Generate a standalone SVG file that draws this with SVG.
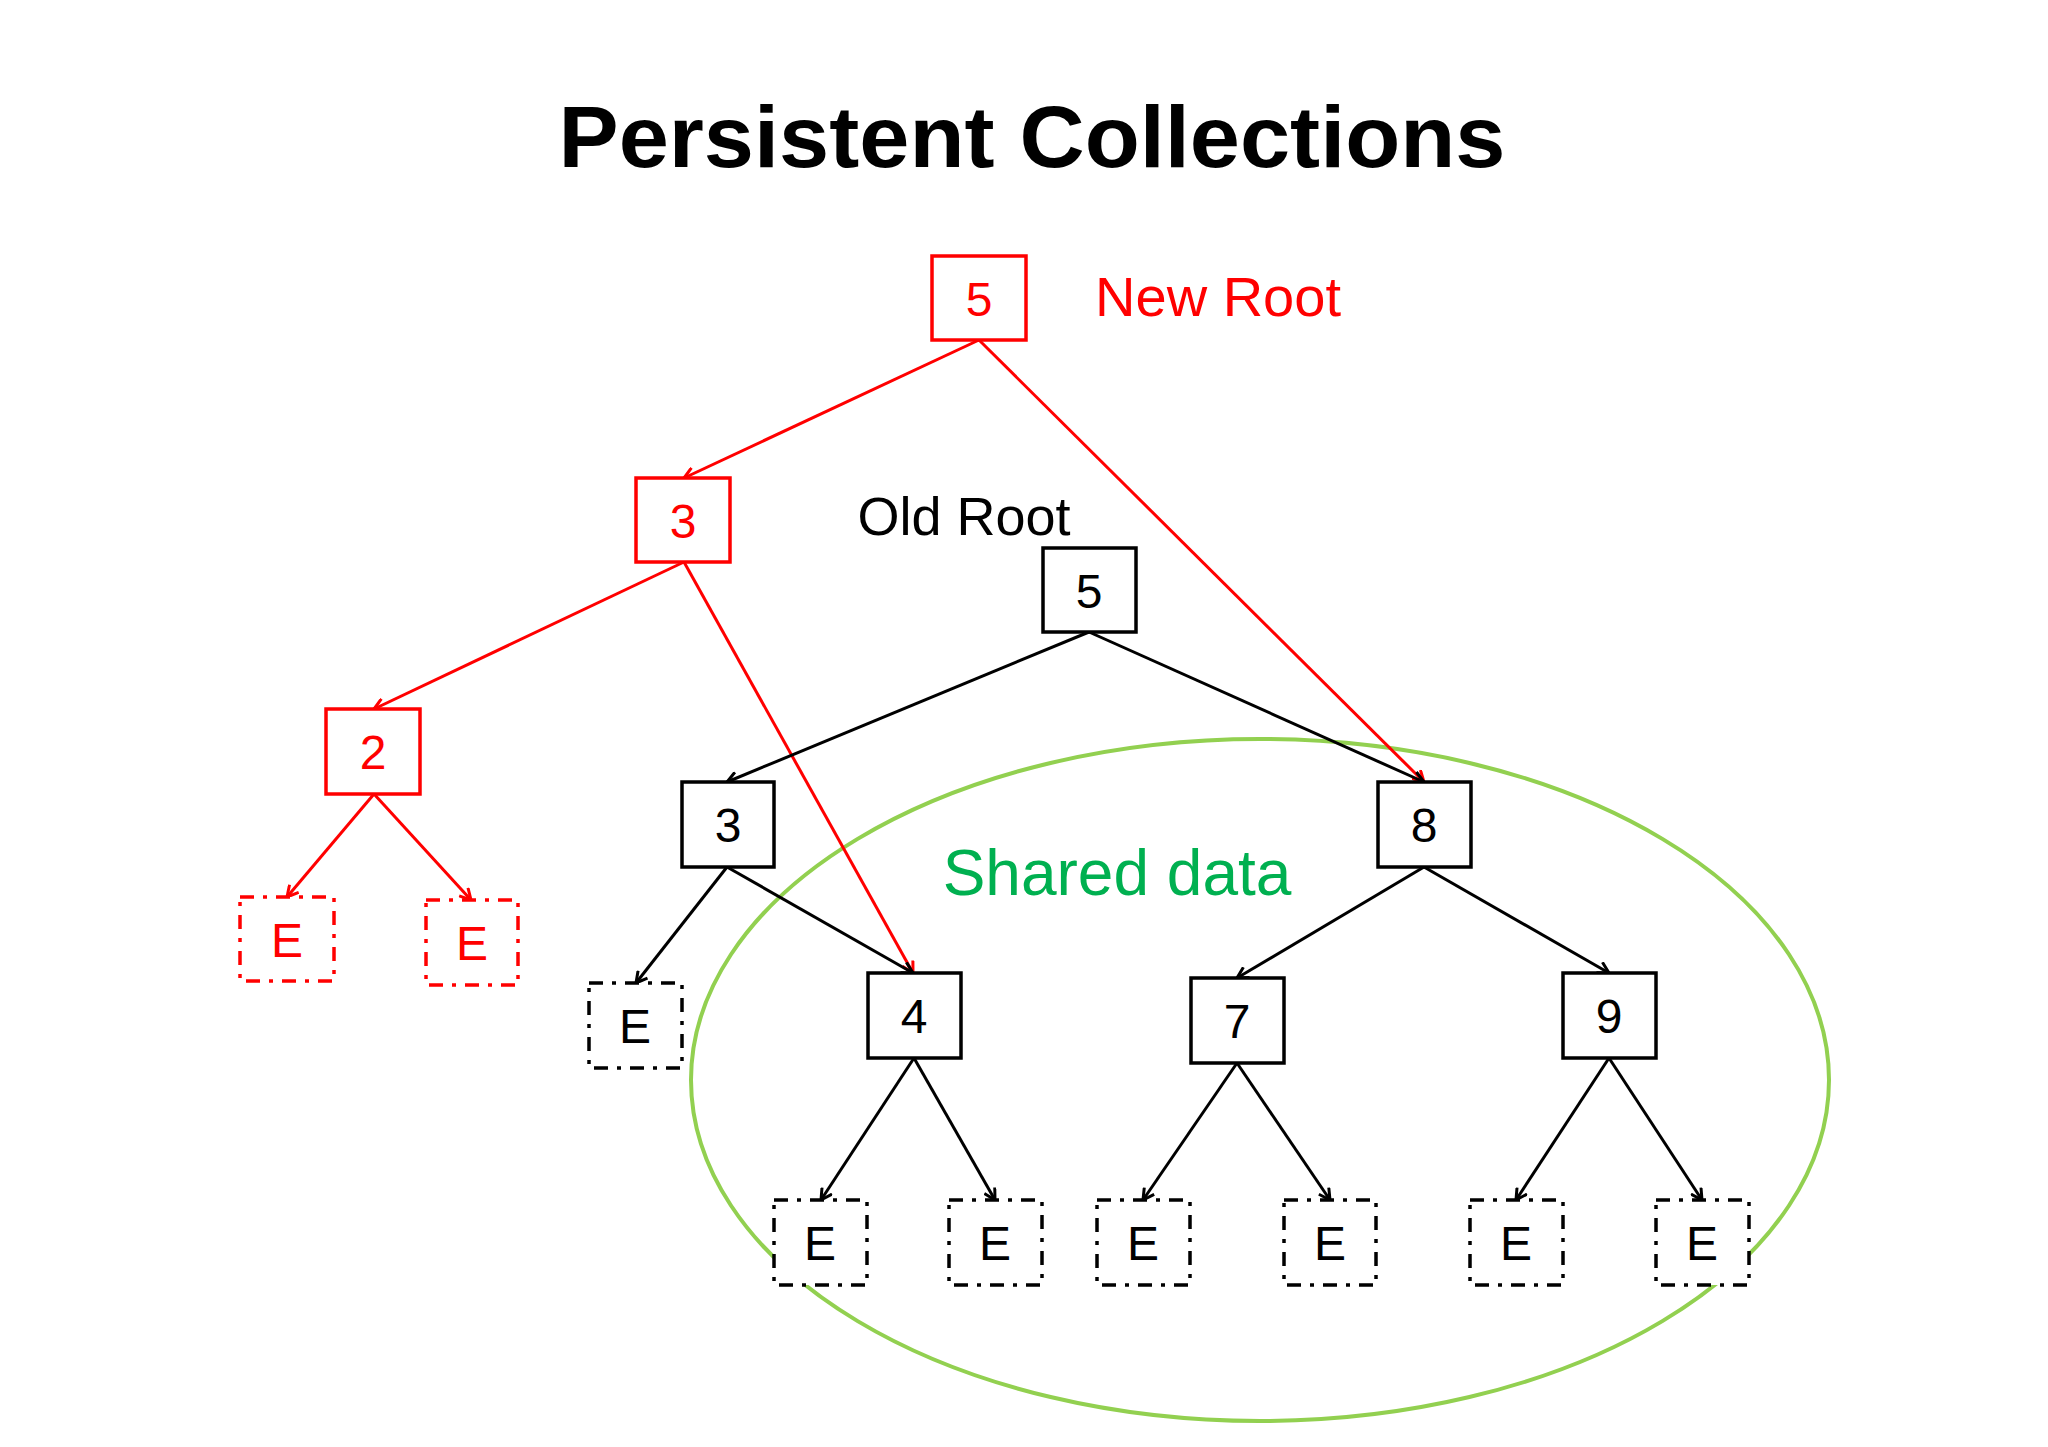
<svg xmlns="http://www.w3.org/2000/svg" width="2048" height="1447" viewBox="0 0 2048 1447">
<defs>
<marker id="ab" markerWidth="14" markerHeight="14" refX="12" refY="7" orient="auto" markerUnits="userSpaceOnUse"><path d="M1,1 L12,7 L1,13" fill="none" stroke="#000" stroke-width="3"/></marker>
<marker id="ar" markerWidth="14" markerHeight="14" refX="12" refY="7" orient="auto" markerUnits="userSpaceOnUse"><path d="M1,1 L12,7 L1,13" fill="none" stroke="#f00" stroke-width="3"/></marker>
</defs>
<style>
text{font-family:"Liberation Sans","Open Sans",sans-serif;text-anchor:middle}
.n rect{fill:#fff;stroke-width:3.5}
.k rect{stroke:#000}.r rect{stroke:#f00}
.d rect{stroke-dasharray:14 9 4 9}
.k text{fill:#000;font-size:48px}.r text{fill:#f00;font-size:48px}
.eb{stroke:#000;stroke-width:3;fill:none;marker-end:url(#ab)}
.er{stroke:#f00;stroke-width:3;fill:none;marker-end:url(#ar)}
</style>
<rect width="2048" height="1447" fill="#fff"/>
<text x="1032" y="167" font-size="88" font-weight="bold" textLength="947" lengthAdjust="spacingAndGlyphs">Persistent Collections</text>
<ellipse cx="1260" cy="1080" rx="569" ry="341" fill="none" stroke="#92D050" stroke-width="4"/>
<text x="1117" y="895" font-size="64" fill="#00B050">Shared data</text>
<text x="1218" y="316" font-size="56" fill="#f00">New Root</text>
<text x="964" y="535" font-size="54" fill="#000">Old Root</text>
<g id="connectors">
<line class="er" x1="979" y1="340" x2="684" y2="478"/>
<line class="er" x1="979" y1="340" x2="1424" y2="782"/>
<line class="er" x1="684" y1="562" x2="374" y2="709"/>
<line class="er" x1="684" y1="562" x2="913" y2="973"/>
<line class="er" x1="374" y1="794" x2="287" y2="897"/>
<line class="er" x1="374" y1="794" x2="471" y2="900"/>
<line class="eb" x1="1089" y1="632" x2="727" y2="782"/>
<line class="eb" x1="1089" y1="632" x2="1424" y2="782"/>
<line class="eb" x1="727" y1="867" x2="636" y2="983"/>
<line class="eb" x1="727" y1="867" x2="913" y2="973"/>
<line class="eb" x1="1424" y1="867" x2="1237" y2="978"/>
<line class="eb" x1="1424" y1="867" x2="1609" y2="973"/>
<line class="eb" x1="914" y1="1058" x2="821" y2="1200"/>
<line class="eb" x1="914" y1="1058" x2="995" y2="1200"/>
<line class="eb" x1="1237" y1="1063" x2="1143" y2="1200"/>
<line class="eb" x1="1237" y1="1063" x2="1330" y2="1200"/>
<line class="eb" x1="1609" y1="1058" x2="1516" y2="1200"/>
<line class="eb" x1="1609" y1="1058" x2="1702" y2="1200"/>
</g>
<g id="newroot5" class="n r"><rect x="932" y="256" width="94" height="84"/><text x="979" y="316">5</text></g>
<g id="new3" class="n r"><rect x="636" y="478" width="94" height="84"/><text x="683" y="538">3</text></g>
<g id="new2" class="n r"><rect x="326" y="709" width="94" height="85"/><text x="373" y="769">2</text></g>
<g id="newE1" class="n r d"><rect x="240" y="897" width="94" height="84"/><text x="287" y="957">E</text></g>
<g id="newE2" class="n r d"><rect x="426" y="900" width="92" height="85"/><text x="472" y="960">E</text></g>
<g id="old5" class="n k"><rect x="1043" y="548" width="93" height="84"/><text x="1089" y="608">5</text></g>
<g id="old3" class="n k"><rect x="682" y="782" width="92" height="85"/><text x="728" y="842">3</text></g>
<g id="n8" class="n k"><rect x="1378" y="782" width="93" height="85"/><text x="1424" y="842">8</text></g>
<g id="oldE" class="n k d"><rect x="589" y="983" width="93" height="85"/><text x="635" y="1043">E</text></g>
<g id="n4" class="n k"><rect x="868" y="973" width="93" height="85"/><text x="914" y="1033">4</text></g>
<g id="n7" class="n k"><rect x="1191" y="978" width="93" height="85"/><text x="1237" y="1038">7</text></g>
<g id="n9" class="n k"><rect x="1563" y="973" width="93" height="85"/><text x="1609" y="1033">9</text></g>
<g id="e4a" class="n k d"><rect x="774" y="1200" width="93" height="85"/><text x="820" y="1260">E</text></g>
<g id="e4b" class="n k d"><rect x="949" y="1200" width="93" height="85"/><text x="995" y="1260">E</text></g>
<g id="e7a" class="n k d"><rect x="1097" y="1200" width="93" height="85"/><text x="1143" y="1260">E</text></g>
<g id="e7b" class="n k d"><rect x="1284" y="1200" width="92" height="85"/><text x="1330" y="1260">E</text></g>
<g id="e9a" class="n k d"><rect x="1470" y="1200" width="93" height="85"/><text x="1516" y="1260">E</text></g>
<g id="e9b" class="n k d"><rect x="1656" y="1200" width="93" height="85"/><text x="1702" y="1260">E</text></g>
</svg>
